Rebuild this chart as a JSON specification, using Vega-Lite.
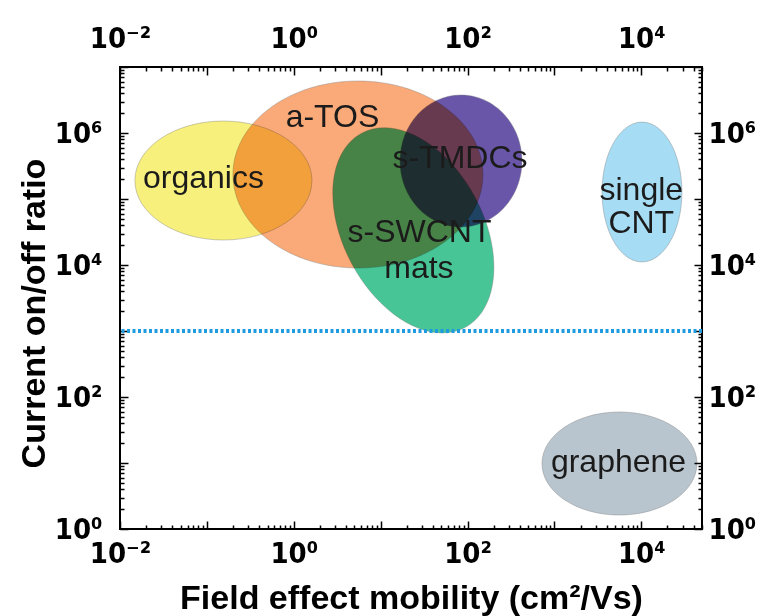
{
  "$schema": "https://vega.github.io/schema/vega-lite/v6.json",
  "width": 582,
  "height": 462,
  "autosize": {"type": "none"},
  "padding": {"left": 120, "top": 67, "right": 62, "bottom": 87},
  "background": "white",
  "config": {
    "view": {"stroke": "#000000", "strokeWidth": 2},
    "font": "Liberation Sans",
    "axis": {
      "grid": false,
      "domain": false,
      "tickColor": "#000000",
      "tickWidth": 1.5,
      "labelFont": "DejaVu Sans Condensed, DejaVu Sans",
      "labelFontWeight": "bold",
      "labelFontSize": 29,
      "labelColor": "#000000",
      "labelOverlap": false,
      "labelFlush": false,
      "titleFont": "Liberation Sans",
      "titleFontWeight": "bold",
      "titleFontSize": 34,
      "titleColor": "#000000"
    }
  },
  "datasets": {
    "regions": [
      {"region": "a-TOS", "mobility": 5.48, "ratio": 235000, "half_width_decades": 1.439},
      {"region": "organics", "mobility": 0.155, "ratio": 190500, "half_width_decades": 1.019},
      {"region": "s-SWCNT mats", "mobility": 23.8, "ratio": 33500, "half_width_decades": 0.927},
      {"region": "s-TMDCs", "mobility": 84.1, "ratio": 377000, "half_width_decades": 0.702},
      {"region": "single CNT", "mobility": 10190, "ratio": 127600, "half_width_decades": 0.46},
      {"region": "graphene", "mobility": 5610, "ratio": 9.82, "half_width_decades": 0.892}
    ],
    "labels": [
      {"text": "organics", "mobility": 0.0914, "ratio": 208000},
      {"text": "a-TOS", "mobility": 2.79, "ratio": 1750000},
      {"text": "s-TMDCs", "mobility": 81.9, "ratio": 418000},
      {"text": "s-SWCNT", "mobility": 28.0, "ratio": 31600},
      {"text": "mats", "mobility": 27.6, "ratio": 9000},
      {"text": "single", "mobility": 10000, "ratio": 137000},
      {"text": "CNT", "mobility": 10000, "ratio": 43700},
      {"text": "graphene", "mobility": 5470, "ratio": 10.5}
    ],
    "threshold": [
      {"ratio": 1000}
    ]
  },
  "resolve": {"axis": {"x": "independent", "y": "independent"}},
  "layer": [
    {
      "data": {"name": "regions"},
      "mark": {"type": "point", "filled": true, "opacity": 1, "blend": "multiply", "stroke": "#808080", "strokeWidth": 0.8, "strokeOpacity": 0.5},
      "encoding": {
        "x": {
          "field": "mobility", "type": "quantitative",
          "scale": {"type": "log", "domain": [0.01, 50000], "nice": false},
          "axis": {
            "orient": "bottom",
            "title": "Field effect mobility (cm²/Vs)",
            "titleY": 79,
            "titleBaseline": "alphabetic",
            "tickCount": 20,
            "tickSize": {"condition": {"test": "abs(log(datum.value)/LN10 - round(log(datum.value)/LN10)) < 0.000001", "value": -8}, "value": -4},
            "labelPadding": 18,
            "labelExpr": "abs(datum.value-0.01)<1e-9 ? '10⁻²' : abs(datum.value-1)<1e-9 ? '10⁰' : abs(datum.value-100)<1e-6 ? '10²' : abs(datum.value-10000)<1e-6 ? '10⁴' : ''"
          }
        },
        "y": {
          "field": "ratio", "type": "quantitative",
          "scale": {"type": "log", "domain": [1, 10000000], "nice": false},
          "axis": {
            "orient": "left",
            "title": "Current on/off ratio",
            "titleX": -76,
            "titleY": 246,
            "titleBaseline": "alphabetic",
            "tickCount": 20,
            "tickSize": {"condition": {"test": "abs(log(datum.value)/LN10 - round(log(datum.value)/LN10)) < 0.000001", "value": -8}, "value": -4},
            "labelPadding": 26,
            "labelExpr": "abs(datum.value-1)<1e-9 ? '10⁰' : abs(datum.value-100)<1e-6 ? '10²' : abs(datum.value-10000)<1e-6 ? '10⁴' : abs(datum.value-1000000)<1e-3 ? '10⁶' : ''"
          }
        },
        "color": {
          "field": "region", "type": "nominal", "legend": null,
          "scale": {
            "domain": ["a-TOS", "organics", "s-SWCNT mats", "s-TMDCs", "single CNT", "graphene"],
            "range": ["#f9aa78", "#f8f07c", "#48c596", "#6a56a8", "#a7ddf4", "#b8c5ce"]
          }
        },
        "shape": {
          "field": "region", "type": "nominal", "legend": null,
          "scale": {
            "domain": ["a-TOS", "organics", "s-SWCNT mats", "s-TMDCs", "single CNT", "graphene"],
            "range": [
              "M-1,0C-1,-0.413,-0.552,-0.748,0,-0.748C0.552,-0.748,1,-0.413,1,0C1,0.413,0.552,0.748,0,0.748C-0.552,0.748,-1,0.413,-1,0Z",
              "M-1,0C-1,-0.371,-0.552,-0.672,0,-0.672C0.552,-0.672,1,-0.371,1,0C1,0.371,0.552,0.672,0,0.672C-0.552,0.672,-1,0.371,-1,0Z",
              "M0.641,1.206C1.065,0.981,1.122,0.258,0.768,-0.408C0.414,-1.074,-0.217,-1.431,-0.641,-1.206C-1.065,-0.981,-1.122,-0.258,-0.768,0.408C-0.414,1.074,0.217,1.431,0.641,1.206Z",
              "M-1,0C-1,-0.598,-0.552,-1.082,0,-1.082C0.552,-1.082,1,-0.598,1,0C1,0.598,0.552,1.082,0,1.082C-0.552,1.082,-1,0.598,-1,0Z",
              "M-1,0C-1,-0.967,-0.552,-1.75,0,-1.75C0.552,-1.75,1,-0.967,1,0C1,0.967,0.552,1.75,0,1.75C-0.552,1.75,-1,0.967,-1,0Z",
              "M-1,0C-1,-0.367,-0.552,-0.665,0,-0.665C0.552,-0.665,1,-0.367,1,0C1,0.367,0.552,0.665,0,0.665C-0.552,0.665,-1,0.367,-1,0Z"
            ]
          }
        },
        "size": {
          "field": "half_width_decades", "type": "quantitative", "legend": null,
          "scale": {"type": "pow", "exponent": 2, "domain": [0, 2], "range": [0, 120776]}
        }
      }
    },
    {
      "data": {"name": "threshold"},
      "mark": {"type": "rule", "color": "#1f9be2", "strokeWidth": 4, "strokeDash": [3, 2.5]},
      "encoding": {
        "y": {"field": "ratio", "type": "quantitative", "axis": null}
      }
    },
    {
      "data": {"name": "labels"},
      "mark": {"type": "text", "font": "Liberation Sans", "fontSize": 32, "color": "#1b1b1b", "baseline": "middle", "align": "center"},
      "encoding": {
        "x": {
          "field": "mobility", "type": "quantitative",
          "axis": {
            "orient": "top",
            "title": null,
            "tickCount": 20,
            "tickSize": {"condition": {"test": "abs(log(datum.value)/LN10 - round(log(datum.value)/LN10)) < 0.000001", "value": -8}, "value": -4},
            "labelPadding": 22,
            "labelExpr": "abs(datum.value-0.01)<1e-9 ? '10⁻²' : abs(datum.value-1)<1e-9 ? '10⁰' : abs(datum.value-100)<1e-6 ? '10²' : abs(datum.value-10000)<1e-6 ? '10⁴' : ''"
          }
        },
        "y": {
          "field": "ratio", "type": "quantitative",
          "axis": {
            "orient": "right",
            "title": null,
            "tickCount": 20,
            "tickSize": {"condition": {"test": "abs(log(datum.value)/LN10 - round(log(datum.value)/LN10)) < 0.000001", "value": -8}, "value": -4},
            "labelPadding": 14,
            "labelExpr": "abs(datum.value-1)<1e-9 ? '10⁰' : abs(datum.value-100)<1e-6 ? '10²' : abs(datum.value-10000)<1e-6 ? '10⁴' : abs(datum.value-1000000)<1e-3 ? '10⁶' : ''"
          }
        },
        "text": {"field": "text", "type": "nominal"}
      }
    }
  ]
}
